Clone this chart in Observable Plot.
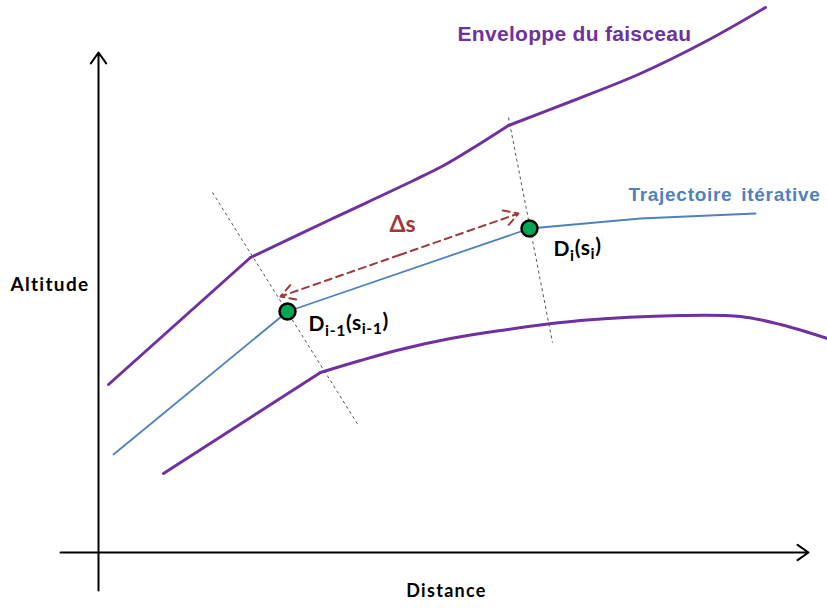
<!DOCTYPE html>
<html>
<head>
<meta charset="utf-8">
<script src="https://cdn.jsdelivr.net/npm/d3@7"></script>
<script src="https://cdn.jsdelivr.net/npm/@observablehq/plot@0.6"></script>
<style>
  html, body { margin: 0; padding: 0; background: #fff; }
  #chart svg { display: block; }
  .lbl-env text { letter-spacing: 0.3px; }
  .lbl-traj text { letter-spacing: 0.7px; word-spacing: 3px; }
  .lbl-axis text { letter-spacing: 1.3px; }
  .sublabel text { letter-spacing: 0.6px; }
</style>
</head>
<body>
<div id="chart"></div>
<script>
// Schematic units: origin at the axes crossing
const upperEnvStartX = [10, 152];
const upperEnvStartY = [168, 295];
const upperEnvMidX = [152, 232, 315, 347, 377, 410];
const upperEnvMidY = [295, 333, 372, 388, 406, 427];
const upperEnvEndX = [410, 475, 542, 609, 667];
const upperEnvEndY = [427, 452, 479, 512, 545];

const lowerEnvStraightX = [65, 222];
const lowerEnvStraightY = [79, 180];
const lowerEnvCurveX = [222, 262, 302, 352, 402, 482, 582, 642, 682, 729];
const lowerEnvCurveY = [180, 192, 203, 214, 222, 232, 237, 236, 228, 214];

const trajX = [15, 189, 431, 542, 657];
const trajY = [98, 241, 324, 334, 339];

const pointX = [189, 431];
const pointY = [241, 324];
const pointLabels = ["D_{i-1}(s_{i-1})", "D_{i}(s_{i})"];
const pointLabelX = [210, 455];
const pointLabelY = [228, 303];

const guideX1 = [114, 410];
const guideY1 = [360, 435];
const guideX2 = [260, 454];
const guideY2 = [127, 210];

const deltaX = [182, 420];
const deltaY = [256, 339];
const deltaLabel = "Δs";
const deltaLabelPos = [304, 328];

const axisOrigin = [0, 0];
const xAxisEnds = [-38, 710];
const yAxisEnds = [-38, 500];

const titleEnv = "Enveloppe du faisceau";
const titleEnvPos = [359, 518];
const titleTraj = "Trajectoire itérative";
const titleTrajPos = [530, 358];
const xLabel = "Distance";
const xLabelPos = [348, -39];
const yLabel = "Altitude";
const yLabelPos = [-88, 268];

const toRows = (xs, ys) => xs.map((x, i) => ({x, y: ys[i]}));

const purple = "#7030a0";
const blue = "#4f81bd";
const red = "#a0393c";

const midX = (deltaX[0] + deltaX[1]) / 2;
const midY = (deltaY[0] + deltaY[1]) / 2;

const chart = Plot.plot({
  width: 827,
  height: 608,
  margin: 0,
  x: {domain: [-98, 729], axis: null},
  y: {domain: [-56, 552], axis: null},
  marks: [
    // axes
    Plot.arrow([{x1: xAxisEnds[0], y1: axisOrigin[1], x2: xAxisEnds[1], y2: axisOrigin[1]}],
      {x1: "x1", y1: "y1", x2: "x2", y2: "y2", stroke: "#000", strokeWidth: 2, headLength: 10, headAngle: 70}),
    Plot.arrow([{x1: axisOrigin[0], y1: yAxisEnds[0], x2: axisOrigin[0], y2: yAxisEnds[1]}],
      {x1: "x1", y1: "y1", x2: "x2", y2: "y2", stroke: "#000", strokeWidth: 2, headLength: 10, headAngle: 70}),
    // dashed guides
    Plot.link(guideX1.map((x, i) => ({x1: x, y1: guideY1[i], x2: guideX2[i], y2: guideY2[i]})),
      {x1: "x1", y1: "y1", x2: "x2", y2: "y2", stroke: "#555", strokeWidth: 1, strokeDasharray: "3,3"}),
    // envelopes
    Plot.line(toRows(upperEnvStartX, upperEnvStartY), {x: "x", y: "y", stroke: purple, strokeWidth: 3}),
    Plot.line(toRows(upperEnvMidX, upperEnvMidY), {x: "x", y: "y", stroke: purple, strokeWidth: 3, curve: "catmull-rom"}),
    Plot.line(toRows(upperEnvEndX, upperEnvEndY), {x: "x", y: "y", stroke: purple, strokeWidth: 3, curve: "catmull-rom"}),
    Plot.line(toRows(lowerEnvStraightX, lowerEnvStraightY), {x: "x", y: "y", stroke: purple, strokeWidth: 3}),
    Plot.line(toRows(lowerEnvCurveX, lowerEnvCurveY), {x: "x", y: "y", stroke: purple, strokeWidth: 3, curve: "catmull-rom"}),
    // trajectory
    Plot.line(toRows(trajX, trajY), {x: "x", y: "y", stroke: blue, strokeWidth: 1.8, curve: "linear"}),
    // delta s double arrow
    Plot.arrow([0, 1].map(i => ({x1: midX, y1: midY, x2: deltaX[i], y2: deltaY[i]})),
      {x1: "x1", y1: "y1", x2: "x2", y2: "y2", stroke: red, strokeWidth: 2, strokeDasharray: "7,5", headLength: 12, headAngle: 60}),
    Plot.text([deltaLabel], {x: () => deltaLabelPos[0], y: () => deltaLabelPos[1], text: d => d,
      fill: red, fontSize: 23, fontWeight: "bold", fontFamily: "Lato, sans-serif"}),
    // points
    Plot.dot(toRows(pointX, pointY), {x: "x", y: "y", r: 8, fill: "#00a651", stroke: "#000", strokeWidth: 2.5}),
    Plot.text(pointLabels, {x: (d, i) => pointLabelX[i], y: (d, i) => pointLabelY[i], text: d => d,
      textAnchor: "start", fill: "#000", fontSize: 21, fontWeight: "bold", fontFamily: "Lato, sans-serif", className: "sublabel"}),
    // titles
    Plot.text([titleEnv], {x: () => titleEnvPos[0], y: () => titleEnvPos[1], text: d => d, textAnchor: "start",
      fill: purple, fontSize: 21, fontWeight: "bold", fontFamily: "'Liberation Sans', Arial, sans-serif", className: "lbl-env"}),
    Plot.text([titleTraj], {x: () => titleTrajPos[0], y: () => titleTrajPos[1], text: d => d, textAnchor: "start",
      fill: blue, fontSize: 19, fontWeight: "bold", fontFamily: "'Liberation Sans', Arial, sans-serif", className: "lbl-traj"}),
    Plot.text([yLabel], {x: () => yLabelPos[0], y: () => yLabelPos[1], text: d => d, textAnchor: "start",
      fill: "#000", fontSize: 19, fontWeight: "bold", fontFamily: "Lato, sans-serif", className: "lbl-axis"}),
    Plot.text([xLabel], {x: () => xLabelPos[0], y: () => xLabelPos[1], text: d => d,
      fill: "#000", fontSize: 18, fontWeight: "bold", fontFamily: "Lato, sans-serif", className: "lbl-axis"})
  ]
});

document.getElementById("chart").appendChild(chart);

// turn _{...} into real subscript tspans
d3.select(chart).selectAll("g.sublabel text").each(function() {
  const el = d3.select(this);
  const str = el.text();
  el.text(null);
  const parts = str.split(/_\{([^}]*)\}/);
  let shifted = false;
  parts.forEach((p, i) => {
    if (!p) return;
    const isSub = i % 2 === 1;
    const t = el.append("tspan").text(p);
    if (isSub) {
      t.attr("font-size", "75%").attr("dy", shifted ? null : "0.3em");
      shifted = true;
    } else {
      if (shifted) { t.attr("dy", "-0.3em"); shifted = false; }
    }
  });
});
</script>
</body>
</html>
